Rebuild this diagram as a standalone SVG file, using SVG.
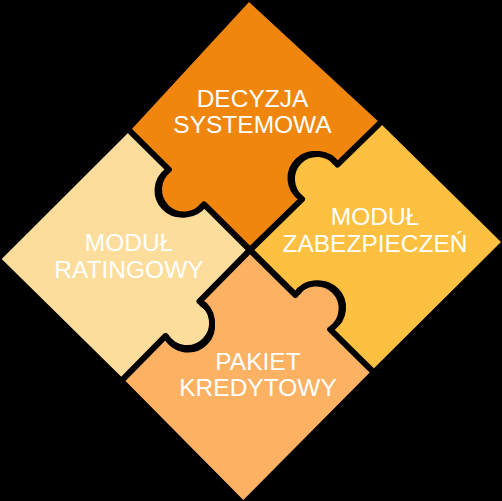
<svg xmlns="http://www.w3.org/2000/svg" width="502" height="501" viewBox="0 0 502 501">
  <style>
    .lbl { font-family: "Liberation Sans", Arial, sans-serif; font-size: 24.5px; fill: #FFFFFF; text-anchor: middle; }
    .gap { fill: none; stroke: #000000; stroke-width: 6; stroke-linejoin: round; }
    .shadow { fill: none; stroke: #000000; stroke-width: 4; }
  </style>
  <rect x="0" y="0" width="502" height="501" fill="#000000"/>
  <g id="decyzja-systemowa">
    <path fill="#F0860E" d="M 249,2 L 380,123 L 337.4,164.6 A 25 25 0 1 0 302.1,199.1 L 250,250 L 204.1,204.4 A 25 25 0 1 1 168.9,169.6 L 130,131 Z"/>
  </g>
  <g id="modul-zabezpieczen">
    <path fill="#FDC040" d="M 380,123 L 501,242 L 371.7,370.5 L 330.2,329.4 A 25 25 0 1 0 295.5,295 L 250,250 L 302.1,199.1 A 25 25 0 1 1 337.4,164.6 Z"/>
  </g>
  <g id="pakiet-kredytowy">
    <path fill="#FDB263" d="M 250,250 L 295.5,295 A 25 25 0 1 1 330.2,329.4 L 371.7,370.5 L 243.3,500 L 123.3,378.8 L 165.6,335.9 A 25 25 0 1 0 199.5,301.4 Z"/>
  </g>
  <g id="modul-ratingowy">
    <path fill="#FDDD9B" d="M 130,131 L 168.9,169.6 A 25 25 0 1 0 204.1,204.4 L 250,250 L 199.5,301.4 A 25 25 0 1 1 165.6,335.9 L 123.3,378.8 L 1.7,259 Z"/>
  </g>
  <g id="gaps">
    <path class="gap" d="M 125.7,126.8 L 168.9,169.6 A 25 25 0 1 0 204.1,204.4 L 250,250 L 295.5,295 A 25 25 0 1 1 330.2,329.4 L 376,374.7"/>
    <path class="gap" d="M 384.3,118.8 L 337.4,164.6 A 25 25 0 1 0 302.1,199.1 L 250,250 L 199.5,301.4 A 25 25 0 1 1 165.6,335.9 L 119.1,383.1"/>
    <path class="shadow" transform="translate(-2.5,1)" d="M 168.9,169.6 A 25 25 0 1 0 204.1,204.4"/>
    <path class="shadow" transform="translate(-2.5,-1)" d="M 337.4,164.6 A 25 25 0 1 0 302.1,199.1"/>
    <path class="shadow" transform="translate(1,2.5)" d="M 199.5,301.4 A 25 25 0 1 1 165.6,335.9"/>
    <path class="shadow" transform="translate(2.5,-1)" d="M 295.5,295 A 25 25 0 1 1 330.2,329.4"/>
  </g>
  <g id="labels">
    <text class="lbl" x="252.5" y="106.5">DECYZJA</text>
    <text class="lbl" x="252.5" y="132.5">SYSTEMOWA</text>
    <text class="lbl" x="375" y="225">MODUŁ</text>
    <text class="lbl" x="375" y="251.5">ZABEZPIECZEŃ</text>
    <text class="lbl" x="129" y="251">MODUŁ</text>
    <text class="lbl" x="129" y="277.5">RATINGOWY</text>
    <text class="lbl" x="258" y="369.5">PAKIET</text>
    <text class="lbl" x="258" y="396">KREDYTOWY</text>
  </g>
</svg>
